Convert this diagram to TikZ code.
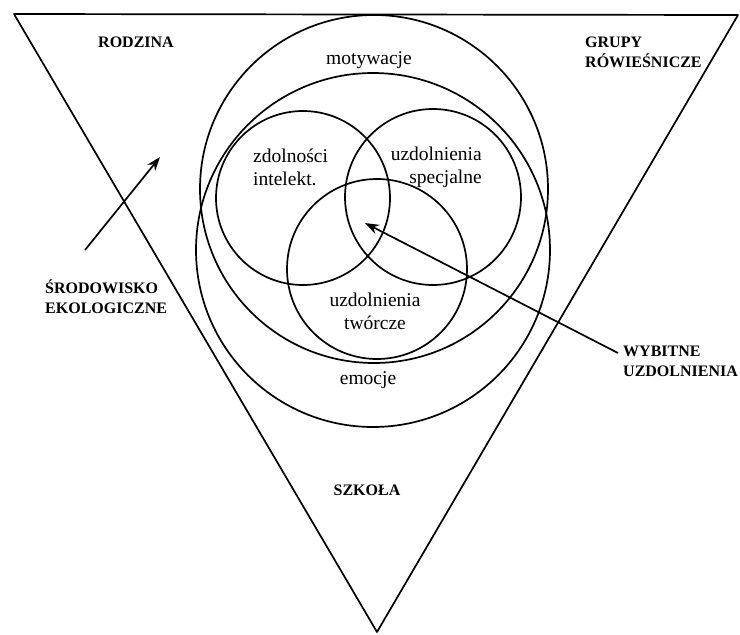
\documentclass[tikz,border=0pt]{standalone}
\usepackage{fontspec}
\setmainfont{Liberation Serif}
\usetikzlibrary{arrows.meta, positioning}

\begin{document}
\begin{tikzpicture}[x=1pt, y=-1pt]
  \tikzset{
    ring/.style={line width=1.7pt},
    lbl/.style={font=\fontsize{19.5}{23}\selectfont, inner sep=0pt},
    caps/.style={font=\bfseries\fontsize{16}{20}\selectfont, align=left, inner sep=0pt},
    arr/.style={-{Stealth[length=14pt, width=10pt]}, line width=1.7pt}
  }
  \useasboundingbox (0,0) rectangle (740,635);
  % inverted triangle
  \coordinate (tl)  at (14,14);
  \coordinate (tr)  at (738,15);
  \coordinate (bot) at (377,632);
  \draw[ring, line join=round] (tl) -- (tr) -- (bot) -- cycle;
  % circles
  \coordinate (cmot) at (374,189);
  \coordinate (cemo) at (373,250);
  \coordinate (cint) at (303,198);
  \coordinate (cspe) at (433,197);
  \coordinate (ctwo) at (377,269);
  \draw[ring] (cmot) circle[radius=174pt];
  \draw[ring] (cemo) circle[radius=177pt];
  \draw[ring] (cint) circle[radius=87pt];
  \draw[ring] (cspe) circle[radius=88pt];
  \draw[ring] (ctwo) circle[radius=90pt];
  % labels
  \node[caps] (rodz) at (136,42) {RODZINA};
  \node[caps, anchor=west] (grup) at (585,52) {GRUPY\\RÓWIEŚNICZE};
  \node[caps, anchor=west] (srod) at (45,297) {ŚRODOWISKO\\EKOLOGICZNE};
  \node[caps, anchor=west] (wyb)  at (623,361) {WYBITNE\\UZDOLNIENIA};
  \node[caps] (szk) at (367,490) {SZKOŁA};
  \node[lbl] (mot) at (369,60) {motywacje};
  \node[lbl, align=left, anchor=west] (zdol) at (253,167) {zdolności\\intelekt.};
  \node[lbl, align=right, anchor=east] (spec) at (482,167) {uzdolnienia\\specjalne};
  \node[lbl, align=center] (twor) at (375,311) {uzdolnienia\\twórcze};
  \node[lbl] (emoc) at (368,380) {emocje};
  % arrows
  \coordinate (srodtail) at (85,250);
  \coordinate (srodhead) at (160,157);
  \coordinate (wybtail)  at (618,353);
  \coordinate (wybhead)  at (365,223);
  \draw[arr] (srodtail) -- (srodhead);
  \draw[arr] (wybtail) -- (wybhead);
\end{tikzpicture}
\end{document}
